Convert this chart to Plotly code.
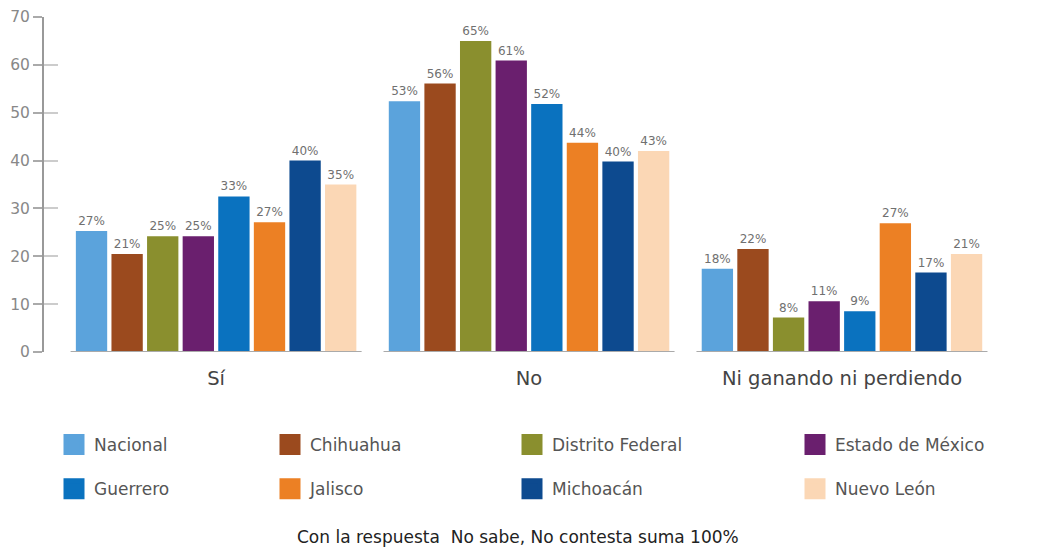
import plotly.graph_objects as go

categories = ["Sí", "No", "Ni ganando ni perdiendo"]
series = ["Nacional", "Chihuahua", "Distrito Federal", "Estado de México",
          "Guerrero", "Jalisco", "Michoacán", "Nuevo León"]
colors = ["#5ba3dc", "#9b4a1e", "#8a8f2e", "#6a1f6e",
          "#0a72bf", "#ec8024", "#0d4a8f", "#fbd7b5"]

# bar heights
heights = {
    "Nacional":         [25.3, 52.4, 17.4],
    "Chihuahua":        [20.5, 56.1, 21.5],
    "Distrito Federal": [24.2, 65.0, 7.2],
    "Estado de México": [24.2, 60.9, 10.6],
    "Guerrero":         [32.5, 51.8, 8.5],
    "Jalisco":          [27.1, 43.7, 26.9],
    "Michoacán":        [40.0, 39.8, 16.6],
    "Nuevo León":       [35.0, 42.0, 20.5],
}
# printed labels
labels = {
    "Nacional":         ["27%", "53%", "18%"],
    "Chihuahua":        ["21%", "56%", "22%"],
    "Distrito Federal": ["25%", "65%", "8%"],
    "Estado de México": ["25%", "61%", "11%"],
    "Guerrero":         ["33%", "52%", "9%"],
    "Jalisco":          ["27%", "44%", "27%"],
    "Michoacán":        ["40%", "40%", "17%"],
    "Nuevo León":       ["35%", "43%", "21%"],
}
y_ticks = [0, 10, 20, 30, 40, 50, 60, 70]
footnote = "Con la respuesta  No sabe, No contesta suma 100%"

FONT = "DejaVu Sans"
BARGAP = 0.09
OFF = 8                      # page body margin of the html page
W, H = 1037 - OFF, 552 - OFF
ML, MT = 44 - OFF, 17 - OFF
PLOT_RIGHT, PLOT_BOTTOM = 1000 - OFF, 352 - OFF
MR, MB = W - PLOT_RIGHT, H - PLOT_BOTTOM
plot_h = H - MT - MB
plot_w = W - ML - MR
legend_cols = [0, 1, 2, 3, 0, 1, 2, 3]
legend_names = ["legend", "legend2", "legend3", "legend4"]


def px_to_paper_x(px):          # px: screen pixel in the reference
    return (px - OFF - ML) / plot_w


def px_to_paper_y(py):
    return ((H - MB) - (py - OFF)) / plot_h


fig = go.Figure()
xs = list(range(len(categories)))
for i, s in enumerate(series):
    fig.add_trace(go.Bar(
        name=s, x=xs, y=heights[s], text=labels[s],
        marker=dict(color=colors[i], line=dict(width=0)),
        textposition="outside", textfont=dict(size=12, color="#707070", family=FONT),
        cliponaxis=False, showlegend=False,
    ))
for i, s in enumerate(series):
    fig.add_trace(go.Scatter(
        name=s, x=[None], y=[None], mode="markers",
        marker=dict(symbol="square", size=16, color=colors[i],
                    line=dict(width=5, color=colors[i])),
        legend=legend_names[legend_cols[i]], legendgroup=s, showlegend=True,
    ))

# per-group baselines
for i in xs:
    half = (1 - BARGAP) / 2 + 0.01
    fig.add_shape(type="line", xref="x", yref="y", x0=i - half, x1=i + half, y0=0, y1=0,
                  line=dict(color="#aaaaaa", width=2), layer="above")

legend_sq_center = [74, 290, 532, 815]
layout_legends = {}
for k, name in enumerate(legend_names):
    layout_legends[name] = dict(
        x=px_to_paper_x(legend_sq_center[k] - 20), xref="paper", xanchor="left",
        y=px_to_paper_y(443 - 16), yref="paper", yanchor="top",
        orientation="v", tracegroupgap=19, bgcolor="rgba(0,0,0,0)",
        font=dict(size=17, color="#555555", family=FONT),
        itemsizing="trace",
    )

fig.update_layout(
    width=W, height=H,
    margin=dict(l=ML, r=MR, t=MT, b=MB, autoexpand=False),
    plot_bgcolor="white", paper_bgcolor="white",
    barmode="group", bargap=BARGAP, bargroupgap=0.12,
    font=dict(family=FONT),
    xaxis=dict(
        tickmode="array", tickvals=xs, ticktext=categories, tickangle=0,
        range=[-0.55, 2.505], showline=False, showgrid=False, zeroline=False,
        ticks="outside", ticklen=9, tickcolor="rgba(0,0,0,0)",
        tickfont=dict(size=19.5, color="#444444", family=FONT),
    ),
    yaxis=dict(
        range=[0, 70], tickvals=y_ticks, showgrid=False, zeroline=False,
        showline=True, linecolor="#999999", linewidth=2,
        ticks="outside", ticklen=9, tickcolor="#aaaaaa", tickwidth=1.5,
        tickfont=dict(size=15.5, color="#888888", family=FONT),
        ticklabeloverflow="allow",
    ),
    yaxis2=dict(
        range=[0, 70], tickvals=y_ticks, overlaying="y", side="left", anchor="x",
        showgrid=False, zeroline=False, showline=False, showticklabels=False,
        ticks="inside", ticklen=14, tickcolor="#cccccc", tickwidth=1.5,
    ),
    annotations=[dict(
        text=footnote, xref="paper", yref="paper",
        x=px_to_paper_x(518), y=px_to_paper_y(537),
        xanchor="center", yanchor="middle",
        showarrow=False, font=dict(size=17, color="#222222", family=FONT),
    )],
    **layout_legends,
)
# invisible trace so yaxis2 renders
fig.add_trace(go.Scatter(x=[0], y=[0], yaxis="y2", mode="markers",
                         marker=dict(opacity=0), showlegend=False, hoverinfo="skip"))

fig.write_html("out.html")
